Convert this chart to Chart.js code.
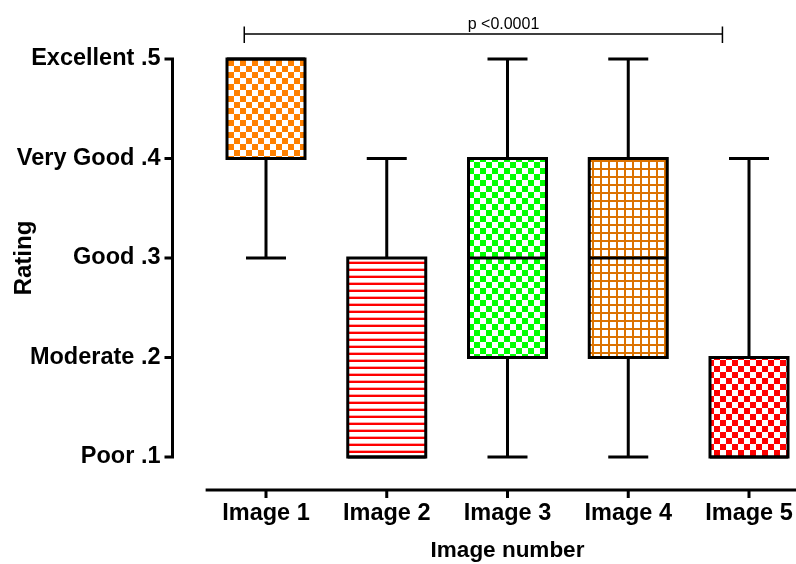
<!DOCTYPE html>
<html>
<head>
<meta charset="utf-8">
<script src="https://cdn.jsdelivr.net/npm/chart.js@4.4.1/dist/chart.umd.min.js"></script>
<style>
  html, body { margin: 0; padding: 0; background: #fff; }
  #wrap { width: 796px; height: 564px; position: relative; }
</style>
</head>
<body>
<div id="wrap"><canvas id="c" width="796" height="564"></canvas></div>
<script>
// Rating distribution per image (box plot: min, Q1, median, Q3, max)
const categories = ['Image 1', 'Image 2', 'Image 3', 'Image 4', 'Image 5'];
const whiskerMin = [0.3, 0.1, 0.1, 0.1, 0.1];
const quartile1  = [0.4, 0.1, 0.2, 0.2, 0.1];
const medians    = [0.5, 0.1, 0.3, 0.3, 0.1];
const quartile3  = [0.5, 0.3, 0.4, 0.4, 0.2];
const whiskerMax = [0.5, 0.4, 0.5, 0.5, 0.4];
const ratingTickLabels = ['Poor .1', 'Moderate .2', 'Good .3', 'Very Good .4', 'Excellent .5'];
const comparisonPair = [0, 4];
const comparisonLabel = 'p <0.0001';

Chart.defaults.font.family = "'Liberation Sans', Arial, Helvetica, sans-serif";
Chart.defaults.color = '#000';

const canvas = document.getElementById('c');
const ctx = canvas.getContext('2d');

function makePattern(size, paint) {
  const c = document.createElement('canvas');
  c.width = size; c.height = size;
  const g = c.getContext('2d');
  g.fillStyle = '#ffffff';
  g.fillRect(0, 0, size, size);
  paint(g, size);
  return ctx.createPattern(c, 'repeat');
}
const checker = (color, cell) => makePattern(cell * 2, g => {
  g.fillStyle = color;
  g.fillRect(0, 0, cell, cell);
  g.fillRect(cell, cell, cell, cell);
});
const stripes = (color, gap) => makePattern(gap, (g, s) => {
  g.fillStyle = 'rgba(255,0,0,0.35)';
  g.fillRect(0, 2, s, 1);
  g.fillStyle = color;
  g.fillRect(0, 3, s, 2);
});
const grid = (color, gap) => makePattern(gap, (g, s) => {
  g.fillStyle = color;
  g.fillRect(0, 0, s, 2);
  g.fillRect(0, 0, 2, s);
});

const boxFills = [
  checker('#ff8000', 6),
  stripes('#ff0000', 7),
  checker('#00ff00', 6),
  grid('#dc7200', 8),
  checker('#ff0000', 6)
];

// Outlines, whiskers, medians, offset axes and the comparison bracket
const boxPlotDecor = {
  id: 'boxPlotDecor',
  afterDatasetsDraw(chart) {
    const g = chart.ctx;
    const y = chart.scales.y;
    const meta = chart.getDatasetMeta(0);
    g.save();
    g.strokeStyle = '#000';
    g.lineWidth = 3;
    g.lineCap = 'butt';
    meta.data.forEach((bar, i) => {
      const p = bar.getProps(['x', 'y', 'base', 'width'], true);
      const half = p.width / 2;
      const top = Math.min(p.y, p.base), bottom = Math.max(p.y, p.base);
      // whiskers
      const capHalf = 20;
      const yMax = y.getPixelForValue(whiskerMax[i]);
      const yMin = y.getPixelForValue(whiskerMin[i]);
      if (whiskerMax[i] > quartile3[i]) {
        g.beginPath();
        g.moveTo(p.x, top); g.lineTo(p.x, yMax);
        g.moveTo(p.x - capHalf, yMax); g.lineTo(p.x + capHalf, yMax);
        g.stroke();
      }
      if (whiskerMin[i] < quartile1[i]) {
        g.beginPath();
        g.moveTo(p.x, bottom); g.lineTo(p.x, yMin);
        g.moveTo(p.x - capHalf, yMin); g.lineTo(p.x + capHalf, yMin);
        g.stroke();
      }
      // median
      const yMed = y.getPixelForValue(medians[i]);
      g.beginPath();
      g.moveTo(p.x - half, yMed); g.lineTo(p.x + half, yMed);
      g.stroke();
      // box outline
      g.lineJoin = 'miter';
      g.strokeRect(p.x - half, top, p.width, bottom - top);
    });
    g.restore();
  },
  afterDraw(chart) {
    const g = chart.ctx;
    const { x, y } = chart.scales;
    const area = chart.chartArea;
    const step = x.getPixelForValue(1) - x.getPixelForValue(0);
    g.save();
    g.strokeStyle = '#000';
    g.fillStyle = '#000';
    g.lineWidth = 3;
    g.lineCap = 'butt';

    // vertical axis, set off to the left of the plot
    const axisX = area.left - 93.5;
    const yTop = y.getPixelForValue(0.5), yBot = y.getPixelForValue(0.1);
    g.beginPath();
    g.moveTo(axisX, yTop - 1.5); g.lineTo(axisX, yBot + 1.5);
    y.ticks.forEach(t => {
      const py = y.getPixelForValue(t.value);
      g.moveTo(axisX - 8, py); g.lineTo(axisX + 1.5, py);
    });
    g.stroke();

    // horizontal axis, set off below the plot
    const axisY = area.bottom + 33;
    g.beginPath();
    g.moveTo(x.getPixelForValue(0) - step / 2, axisY);
    g.lineTo(chart.width, axisY);
    categories.forEach((_, i) => {
      const px = x.getPixelForValue(i);
      g.moveTo(px, axisY); g.lineTo(px, axisY + 8);
    });
    g.stroke();

    // significance bracket
    const bx0 = x.getPixelForValue(comparisonPair[0]) - 0.18 * step;
    const bx1 = x.getPixelForValue(comparisonPair[1]) - 0.22 * step;
    const by = 34;
    g.lineWidth = 1.5;
    g.beginPath();
    g.moveTo(bx0, by); g.lineTo(bx1, by);
    g.moveTo(bx0, by - 7.5); g.lineTo(bx0, by + 9);
    g.moveTo(bx1, by - 7.5); g.lineTo(bx1, by + 9);
    g.stroke();
    g.font = "16px 'Liberation Sans', Arial, sans-serif";
    g.textAlign = 'center';
    g.textBaseline = 'alphabetic';
    g.fillText(comparisonLabel, (x.getPixelForValue(comparisonPair[0]) + x.getPixelForValue(comparisonPair[1])) / 2 - 4, 28.5);
    g.restore();
  }
};

new Chart(ctx, {
  type: 'bar',
  data: {
    labels: categories,
    datasets: [{
      data: categories.map((_, i) => [quartile1[i], quartile3[i]]),
      backgroundColor: boxFills,
      borderWidth: 0,
      barThickness: 78,
      clip: false
    }]
  },
  options: {
    responsive: false,
    animation: false,
    events: [],
    layout: { padding: { top: 59, right: 47, left: 0, bottom: 0 } },
    plugins: { legend: { display: false }, tooltip: { enabled: false } },
    scales: {
      x: {
        offset: false,
        grid: { display: false, drawTicks: true, tickLength: 42 },
        border: { display: false },
        ticks: { padding: 0, color: '#000', font: { size: 23.5, weight: 'bold' } },
        title: {
          display: true, text: 'Image number', color: '#000',
          font: { size: 22.5, weight: 'bold' }, padding: { top: 0, bottom: 0 }
        },
        afterFit: s => { s.height = 107; }
      },
      y: {
        min: 0.1, max: 0.5,
        grid: { display: false, drawTicks: true, tickLength: 105.5 },
        border: { display: false },
        ticks: {
          stepSize: 0.1, padding: 0, color: '#000',
          font: { size: 23.5, weight: 'bold' },
          callback: v => ratingTickLabels[Math.round(v * 10) - 1]
        },
        title: {
          display: true, text: 'Rating', color: '#000',
          font: { size: 24, weight: 'bold' }, padding: { top: 9.5, bottom: 0 }
        },
        afterFit: s => { s.width = 266; }
      }
    }
  },
  plugins: [boxPlotDecor]
});
</script>
</body>
</html>
